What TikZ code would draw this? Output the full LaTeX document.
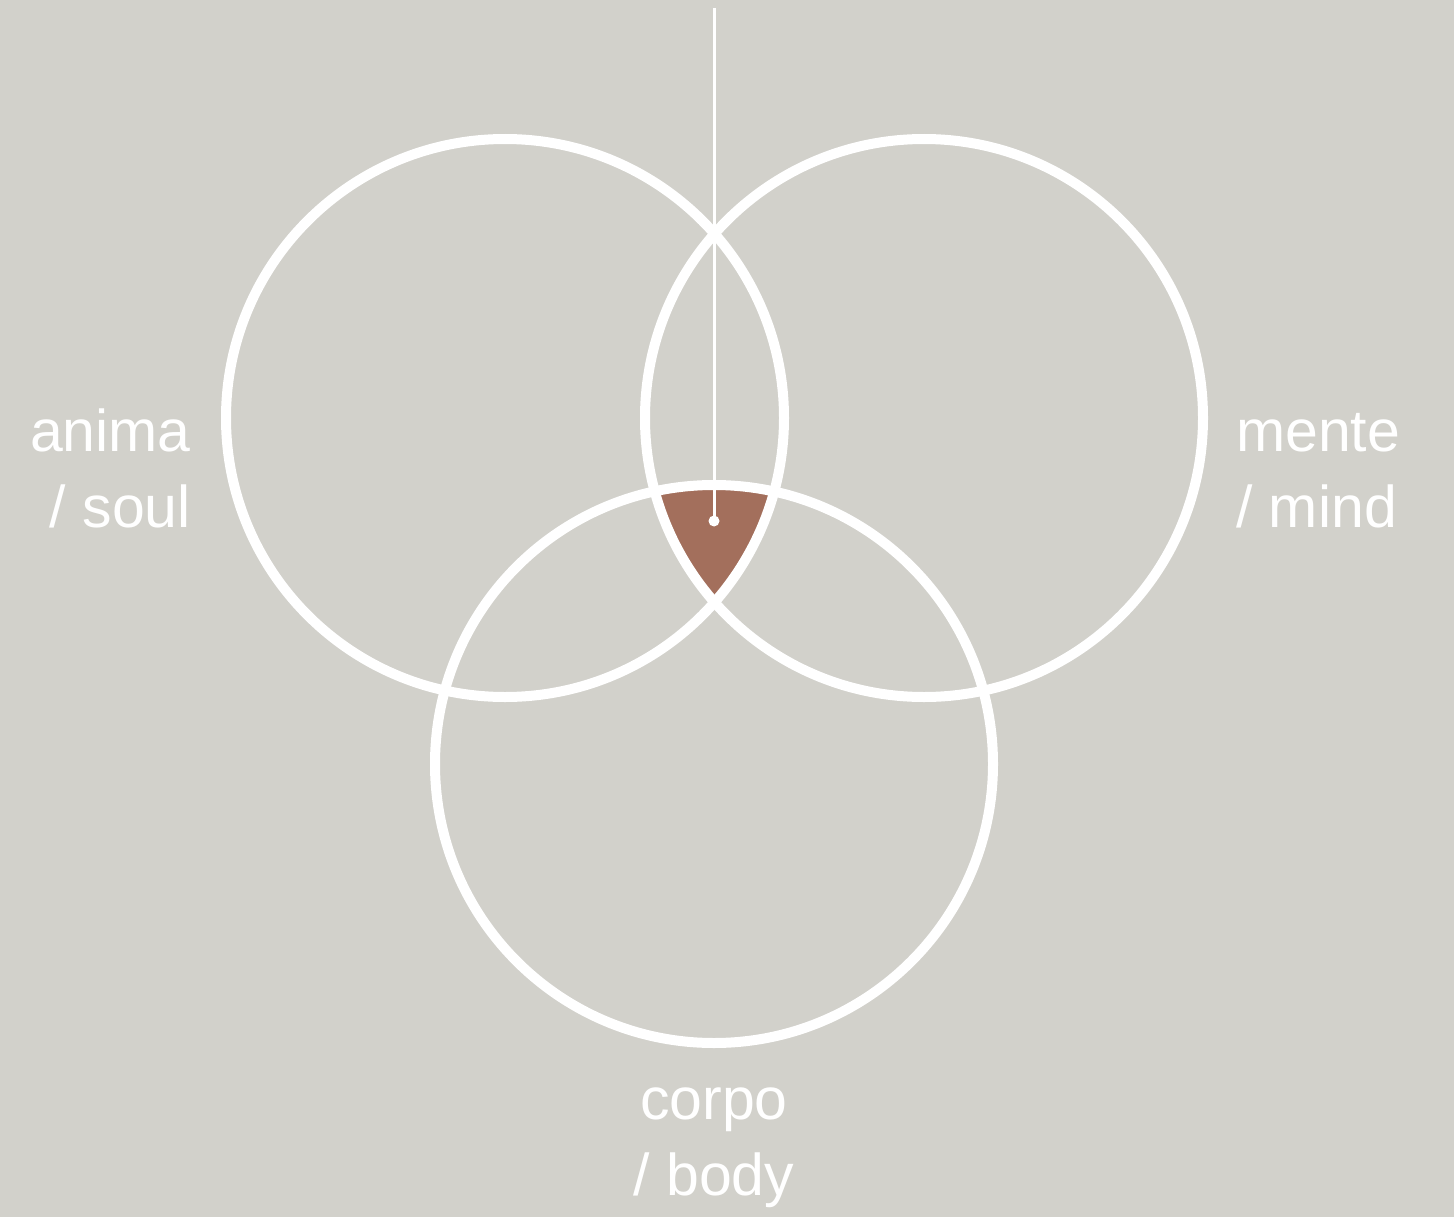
\documentclass[tikz,border=0pt]{standalone}
\usepackage{fontspec}
\setmainfont{Liberation Sans}
\definecolor{vennBack}{HTML}{D2D1CB}
\definecolor{vennCore}{HTML}{A36F5C}
\newcommand{\vennFont}{\fontsize{59}{76}\selectfont}

\begin{document}
\begin{tikzpicture}[x=1pt,y=-1pt]
\tikzset{
  ring/.style={draw=white, line width=10pt},
  label/.style={text=white, inner sep=0pt, font=\vennFont},
  dot/.style={circle, fill=white, inner sep=0pt, minimum size=11pt}
}
\fill[vennBack] (0,0) rectangle (1454,1217);
\useasboundingbox (0,0) rectangle (1454,1217);
\coordinate (anima) at (505,418);
\coordinate (mente) at (924,418);
\coordinate (corpo) at (714,764);
% common core
\begin{scope}
\clip (anima) circle (279);
\clip (mente) circle (279);
\fill[vennCore] (corpo) circle (279);
\end{scope}
\draw[ring] (anima) circle (279);
\draw[ring] (mente) circle (279);
\draw[ring] (corpo) circle (279);
% pointer
\coordinate (top) at (714,8);
\node[dot] (centre) at (714,521) {};
\draw[white, line width=3pt] (top) -- (centre.center);
% labels (base = baseline of the last line)
\node[label, anchor=base east, align=right] (animaText) at (191,527) {anima\\/ soul};
\node[label, anchor=base west, align=left] (menteText) at (1236,527) {mente\\/ mind};
\node[label, anchor=base, align=center] (corpoText) at (714,1195) {corpo\\/ body};
\end{tikzpicture}
\end{document}
